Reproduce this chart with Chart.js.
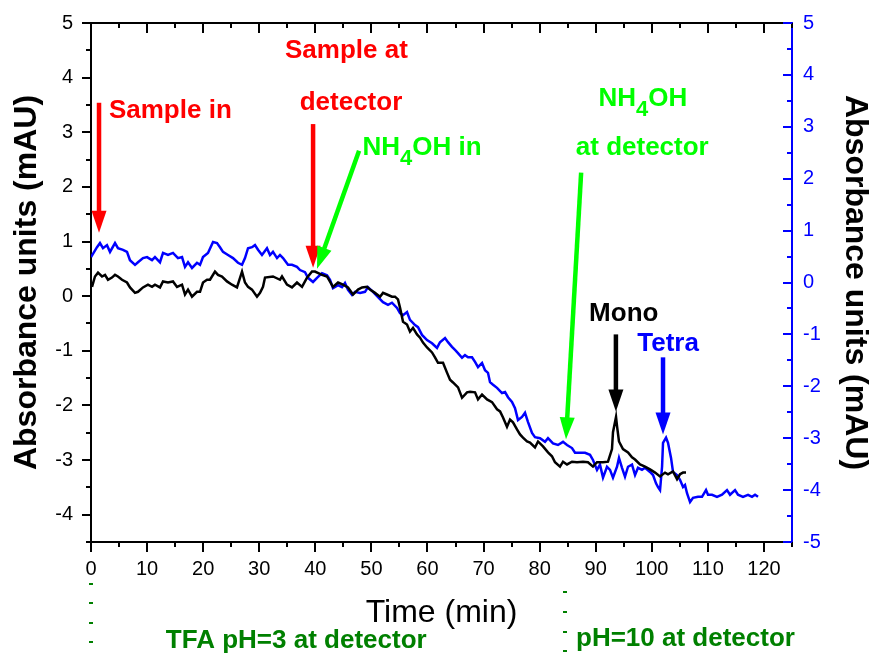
<!DOCTYPE html>
<html>
<head>
<meta charset="utf-8">
<script src="https://cdn.jsdelivr.net/npm/chart.js@4.4.1/dist/chart.umd.min.js"></script>
<style>
  html, body { margin: 0; padding: 0; background: #ffffff; }
  #wrap { width: 875px; height: 655px; }
</style>
</head>
<body>
<div id="wrap"><canvas id="c" width="875" height="655"></canvas></div>
<script>
// ---------------- data ----------------
const blackTime = [0.18,0.71,1.25,1.96,2.50,3.03,3.74,4.28,4.81,5.53,
  6.42,6.95,7.85,8.38,9.27,10.16,10.88,11.41,12.30,12.84,
  13.73,14.62,15.34,16.23,16.76,17.30,18.01,18.90,19.44,19.97,
  20.69,21.22,22.11,22.65,23.36,24.25,25.14,26.03,26.93,27.46,
  28.00,28.71,29.60,30.14,30.67,31.03,32.45,33.70,34.06,34.95,
  35.84,36.73,37.63,38.16,38.52,39.41,39.94,41.19,42.08,43.15,
  44.05,44.94,45.83,46.72,47.61,48.33,49.22,49.75,50.64,51.54,
  52.07,52.78,53.67,54.21,54.74,55.10,55.64,56.35,56.88,57.42,
  58.13,58.67,59.20,59.92,60.81,61.34,61.88,62.77,63.48,64.02,
  64.55,65.45,66.16,67.05,67.59,68.48,69.01,69.73,70.62,71.51,
  72.40,72.94,73.47,74.18,74.72,75.25,75.96,76.50,77.03,77.75,
  78.28,79.17,79.71,80.60,81.49,82.20,82.74,83.63,84.17,84.88,
  85.77,86.66,87.73,88.62,89.51,90.23,91.30,92.19,92.90,93.08,
  93.62,93.80,94.15,94.86,95.76,96.47,97.01,97.90,98.79,99.68,
  100.58,101.47,102.36,102.89,103.78,104.50,105.03,105.57,106.10];
const blackAbs = [0.17,0.36,0.43,0.36,0.39,0.30,0.34,0.39,0.36,0.30,
  0.25,0.16,0.06,0.08,0.16,0.21,0.17,0.21,0.16,0.27,
  0.25,0.27,0.17,0.21,0.03,0.12,-0.01,0.08,0.08,0.25,
  0.30,0.30,0.45,0.39,0.36,0.27,0.21,0.16,0.45,0.25,
  0.17,0.12,-0.01,0.06,0.17,0.34,0.36,0.30,0.36,0.21,
  0.16,0.25,0.17,0.27,0.34,0.45,0.45,0.39,0.36,0.17,
  0.25,0.21,0.16,0.03,0.12,0.16,0.17,0.12,0.06,-0.01,
  0.06,0.03,-0.01,-0.01,-0.06,-0.21,-0.47,-0.52,-0.65,-0.58,
  -0.70,-0.76,-0.85,-0.94,-1.03,-1.12,-1.22,-1.22,-1.40,-1.53,
  -1.58,-1.67,-1.86,-1.76,-1.75,-1.76,-1.89,-1.80,-1.89,-1.94,
  -2.07,-2.11,-2.22,-2.39,-2.26,-2.31,-2.44,-2.53,-2.59,-2.66,
  -2.68,-2.77,-2.66,-2.75,-2.86,-2.93,-3.04,-3.12,-3.03,-3.08,
  -3.03,-3.04,-3.03,-3.04,-3.12,-3.04,-3.04,-3.03,-2.80,-2.49,
  -2.21,-2.38,-2.66,-2.80,-2.86,-2.95,-2.99,-3.08,-3.12,-3.17,
  -3.23,-3.30,-3.23,-3.26,-3.21,-3.35,-3.26,-3.23,-3.23];

const blueTime = [0.00,1.07,1.60,2.14,2.85,3.39,4.28,4.81,5.71,6.42,
  6.95,7.85,8.38,9.27,9.99,10.88,11.41,12.30,12.84,13.73,
  14.62,15.51,16.23,16.76,17.30,18.01,18.90,19.44,19.97,20.86,
  21.76,22.47,23.00,23.54,24.43,25.32,26.21,26.93,27.46,28.00,
  28.71,29.24,29.78,30.49,31.38,31.92,32.45,33.17,33.70,34.24,
  35.13,35.84,36.73,37.27,38.16,38.70,39.59,40.30,41.19,42.08,
  42.62,43.15,44.05,44.76,45.29,45.83,46.54,47.08,47.97,48.86,
  49.39,50.29,51.18,52.07,52.96,53.67,54.57,55.10,55.64,56.35,
  56.88,57.78,58.31,59.02,59.92,60.81,61.70,62.23,63.13,63.66,
  64.37,64.91,65.44,66.16,66.69,67.23,67.94,68.48,69.01,69.73,
  70.26,70.79,71.15,71.69,72.40,73.29,73.83,74.36,75.07,75.61,
  76.14,76.86,77.39,77.93,78.64,79.17,80.07,80.96,81.49,82.38,
  83.27,84.17,84.88,85.77,86.31,87.20,88.09,88.98,89.51,90.23,
  90.76,91.30,92.01,92.55,93.08,93.80,94.15,94.69,95.22,95.76,
  96.47,97.01,97.54,98.25,98.79,99.68,100.22,100.75,101.11,101.47,
  101.83,102.00,102.54,102.89,103.43,103.78,104.50,105.03,105.57,105.92,
  106.28,106.82,107.35,108.24,108.95,109.67,110.02,110.74,111.63,112.52,
  113.41,113.95,114.84,115.37,116.26,117.16,117.87,118.41,118.94];
const blueAbs = [0.49,0.68,0.76,0.66,0.72,0.59,0.76,0.66,0.63,0.59,
  0.43,0.34,0.39,0.47,0.49,0.43,0.49,0.39,0.57,0.53,
  0.57,0.47,0.49,0.30,0.39,0.28,0.38,0.34,0.49,0.57,
  0.78,0.76,0.68,0.59,0.53,0.47,0.38,0.34,0.47,0.66,
  0.68,0.72,0.63,0.53,0.66,0.53,0.59,0.47,0.53,0.47,
  0.34,0.34,0.30,0.24,0.20,0.09,0.01,0.09,0.18,0.14,
  0.05,-0.11,-0.05,-0.09,-0.01,-0.14,-0.24,-0.18,-0.20,-0.18,
  -0.09,-0.18,-0.28,-0.38,-0.43,-0.39,-0.49,-0.59,-0.63,-0.57,
  -0.72,-0.82,-0.86,-1.01,-1.11,-1.17,-1.26,-1.15,-1.07,-1.15,
  -1.24,-1.30,-1.36,-1.45,-1.40,-1.44,-1.44,-1.53,-1.63,-1.55,
  -1.69,-1.74,-1.92,-1.97,-2.03,-2.13,-2.11,-2.21,-2.30,-2.42,
  -2.65,-2.59,-2.51,-2.69,-2.90,-2.98,-3.00,-3.07,-3.00,-3.10,
  -3.13,-3.07,-3.13,-3.19,-3.28,-3.28,-3.28,-3.32,-3.42,-3.61,
  -3.51,-3.76,-3.55,-3.61,-3.76,-3.55,-3.38,-3.57,-3.74,-3.55,
  -3.51,-3.71,-3.57,-3.61,-3.57,-3.65,-3.71,-3.87,-3.94,-4.00,
  -3.55,-3.09,-2.99,-3.09,-3.38,-3.65,-3.71,-3.80,-3.94,-3.90,
  -4.06,-4.23,-4.15,-4.13,-4.13,-4.00,-4.09,-4.09,-4.13,-4.09,
  -4.00,-4.09,-4.00,-4.09,-4.13,-4.09,-4.13,-4.09,-4.13];

const xTickValues = [0,10,20,30,40,50,60,70,80,90,100,110,120];
const yLeftTickValues = [-4,-3,-2,-1,0,1,2,3,4,5];
const yRightTickValues = [-5,-4,-3,-2,-1,0,1,2,3,4,5];
const xTitle = 'Time (min)';
const yTitle = 'Absorbance units (mAU)';

// annotations (x in minutes, y in left-axis units)
const arrowNotes = [
  { x1: 1.43, y1: 3.54, x2: 1.43, y2: 1.16, color: '#ff0000' },
  { x1: 39.6, y1: 3.15, x2: 39.6, y2: 0.52, color: '#ff0000' },
  { x1: 47.8, y1: 2.66, x2: 40.3, y2: 0.50, color: '#00ff00' },
  { x1: 87.4, y1: 2.26, x2: 84.7, y2: -2.62, color: '#00ff00' },
  { x1: 93.6, y1: -0.70, x2: 93.6, y2: -2.11, color: '#000000' },
  { x1: 102.0, y1: -1.12, x2: 102.0, y2: -2.53, color: '#0000ff' }
];
const textNotes = [
  { parts: [['Sample in']], x: 3.2, y: 3.27, align: 'left', color: '#ff0000' },
  { parts: [['Sample at']], x: 45.55, y: 4.36, align: 'center', color: '#ff0000' },
  { parts: [['detector']], x: 46.36, y: 3.41, align: 'center', color: '#ff0000' },
  { parts: [['NH'], ['4', 'sub'], ['OH in']], x: 48.4, y: 2.59, align: 'left', color: '#00ff00' },
  { parts: [['NH'], ['4', 'sub'], ['OH']], x: 98.4, y: 3.48, align: 'center', color: '#00ff00' },
  { parts: [['at detector']], x: 98.3, y: 2.59, align: 'center', color: '#00ff00' },
  { parts: [['Mono']], x: 95.0, y: -0.45, align: 'center', color: '#000000' },
  { parts: [['Tetra']], x: 102.9, y: -1.01, align: 'center', color: '#0000ff' },
  { parts: [['TFA pH=3 at detector']], x: 36.6, y: -6.44, align: 'center', color: '#008000' },
  { parts: [['pH=10 at detector']], x: 106.0, y: -6.41, align: 'center', color: '#008000' }
];
const markerNotes = [
  { x: 0, ys: [-5.26, -5.62, -5.98, -6.33] },
  { x: 84.5, ys: [-5.42, -5.79, -6.15, -6.50] }
];

// ---------------- chart ----------------
const FONT = '"Liberation Sans", Arial, Helvetica, sans-serif';
Chart.defaults.font.family = FONT;

function toPoints(xs, ys) { return xs.map((x, i) => ({ x: x, y: ys[i] })); }

function noPad(s) {
  s.paddingTop = 0; s.paddingBottom = 0; s.paddingLeft = 0; s.paddingRight = 0;
}

const tickPlugin = {
  id: 'axisTicks',
  afterDraw(chart) {
    const ctx = chart.ctx;
    const a = chart.chartArea;
    const xs = chart.scales.x, yl = chart.scales.y, yr = chart.scales.y2;
    ctx.save();
    ctx.lineWidth = 2;
    ctx.lineCap = 'butt';
    // top border
    ctx.strokeStyle = '#000';
    ctx.beginPath(); ctx.moveTo(a.left - 1, a.top); ctx.lineTo(a.right, a.top); ctx.stroke();
    // x ticks (bottom outward, top inward)
    for (let t = 0; t <= 125; t += 5) {
      const px = Math.round(xs.getPixelForValue(t));
      const len = (t % 10 === 0) ? 10 : 5;
      ctx.beginPath();
      ctx.moveTo(px, a.bottom); ctx.lineTo(px, a.bottom + len);
      ctx.moveTo(px, a.top); ctx.lineTo(px, a.top + len);
      ctx.stroke();
    }
    // left ticks outward
    for (let k = -9; k <= 10; k++) {
      const v = k / 2;
      const py = Math.round(yl.getPixelForValue(v));
      const len = (k % 2 === 0) ? 9 : 5;
      ctx.beginPath(); ctx.moveTo(a.left - len, py); ctx.lineTo(a.left, py); ctx.stroke();
    }
    // right ticks inward (blue)
    ctx.strokeStyle = '#0000ff';
    for (let k = -10; k <= 10; k++) {
      const v = k / 2;
      const py = Math.round(yr.getPixelForValue(v));
      const len = (k % 2 === 0) ? 9 : 5;
      ctx.beginPath(); ctx.moveTo(a.right - len, py); ctx.lineTo(a.right, py); ctx.stroke();
    }
    ctx.restore();
  }
};

function drawParts(ctx, parts, x, y, align, color) {
  const mainFont = 'bold 26px ' + FONT;
  const subFont = 'bold 22px ' + FONT;
  let total = 0;
  const widths = parts.map(p => {
    ctx.font = p[1] === 'sub' ? subFont : mainFont;
    const w = ctx.measureText(p[0]).width;
    total += w;
    return w;
  });
  let cx = align === 'center' ? x - total / 2 : x;
  ctx.fillStyle = color;
  ctx.textAlign = 'left';
  ctx.textBaseline = 'alphabetic';
  parts.forEach((p, i) => {
    const sub = p[1] === 'sub';
    ctx.font = sub ? subFont : mainFont;
    ctx.fillText(p[0], cx, y + (sub ? 10 : 0));
    cx += widths[i];
  });
}

const notePlugin = {
  id: 'notes',
  afterDraw(chart) {
    const ctx = chart.ctx;
    const xs = chart.scales.x, yl = chart.scales.y;
    ctx.save();
    // arrows
    arrowNotes.forEach(n => {
      const x1 = xs.getPixelForValue(n.x1), y1 = yl.getPixelForValue(n.y1);
      const x2 = xs.getPixelForValue(n.x2), y2 = yl.getPixelForValue(n.y2);
      const ang = Math.atan2(y2 - y1, x2 - x1);
      const headLen = 22, headHalf = 7.5;
      const bx = x2 - headLen * Math.cos(ang), by = y2 - headLen * Math.sin(ang);
      ctx.strokeStyle = n.color;
      ctx.fillStyle = n.color;
      ctx.lineWidth = 4.5;
      ctx.lineCap = 'butt';
      ctx.beginPath(); ctx.moveTo(x1, y1); ctx.lineTo(bx + 2 * Math.cos(ang), by + 2 * Math.sin(ang)); ctx.stroke();
      ctx.beginPath();
      ctx.moveTo(x2, y2);
      ctx.lineTo(bx + headHalf * Math.sin(ang), by - headHalf * Math.cos(ang));
      ctx.lineTo(bx - headHalf * Math.sin(ang), by + headHalf * Math.cos(ang));
      ctx.closePath();
      ctx.fill();
    });
    // texts
    textNotes.forEach(n => {
      drawParts(ctx, n.parts, xs.getPixelForValue(n.x), yl.getPixelForValue(n.y), n.align, n.color);
    });
    // green dash markers
    ctx.fillStyle = '#008000';
    markerNotes.forEach(m => {
      const px = Math.round(xs.getPixelForValue(m.x));
      m.ys.forEach(v => {
        const py = Math.round(yl.getPixelForValue(v));
        ctx.fillRect(px - 2, py - 1, 4, 2);
      });
    });
    ctx.restore();
  }
};

new Chart(document.getElementById('c'), {
  type: 'line',
  data: {
    datasets: [
      {
        label: 'Mono run',
        data: toPoints(blackTime, blackAbs),
        borderColor: '#000000',
        borderWidth: 2.5,
        pointRadius: 0,
        tension: 0,
        fill: false,
        yAxisID: 'y'
      },
      {
        label: 'Tetra run',
        data: toPoints(blueTime, blueAbs),
        borderColor: '#0000ff',
        borderWidth: 2.5,
        pointRadius: 0,
        tension: 0,
        fill: false,
        yAxisID: 'y2'
      }
    ]
  },
  options: {
    responsive: false,
    animation: false,
    devicePixelRatio: 1,
    layout: { padding: { top: 23, left: 0, right: 0, bottom: 0 } },
    plugins: { legend: { display: false }, title: { display: false }, tooltip: { enabled: false } },
    scales: {
      x: {
        type: 'linear',
        position: 'bottom',
        min: 0, max: 125,
        afterBuildTicks: s => { s.ticks = xTickValues.map(v => ({ value: v })); },
        afterFit: s => { s.height = 113; noPad(s); },
        grid: { drawOnChartArea: false, drawTicks: false },
        border: { display: true, color: '#000000', width: 2 },
        ticks: { color: '#000000', font: { size: 20 }, padding: 15, maxRotation: 0, autoSkip: false },
        title: { display: true, text: xTitle, color: '#000000', font: { size: 32 }, padding: { top: 0, bottom: 23 } }
      },
      y: {
        type: 'linear',
        position: 'left',
        min: -4.5, max: 5,
        afterBuildTicks: s => { s.ticks = yLeftTickValues.map(v => ({ value: v })); },
        afterFit: s => { s.width = 91; noPad(s); },
        grid: { drawOnChartArea: false, drawTicks: false },
        border: { display: true, color: '#000000', width: 2 },
        ticks: { color: '#000000', font: { size: 20 }, padding: 18 },
        title: { display: true, text: yTitle, color: '#000000', font: { size: 32, weight: 'bold' }, padding: { top: 8, bottom: 0 } }
      },
      y2: {
        type: 'linear',
        position: 'right',
        min: -5, max: 5,
        afterBuildTicks: s => { s.ticks = yRightTickValues.map(v => ({ value: v })); },
        afterFit: s => { s.width = 83; noPad(s); },
        grid: { drawOnChartArea: false, drawTicks: false },
        border: { display: true, color: '#0000ff', width: 2 },
        ticks: { color: '#0000ff', font: { size: 20 }, padding: 11 },
        title: { display: true, text: yTitle, color: '#000000', font: { size: 32, weight: 'bold' }, padding: { top: 1, bottom: 0 } }
      }
    }
  },
  plugins: [tickPlugin, notePlugin]
});
</script>
</body>
</html>
